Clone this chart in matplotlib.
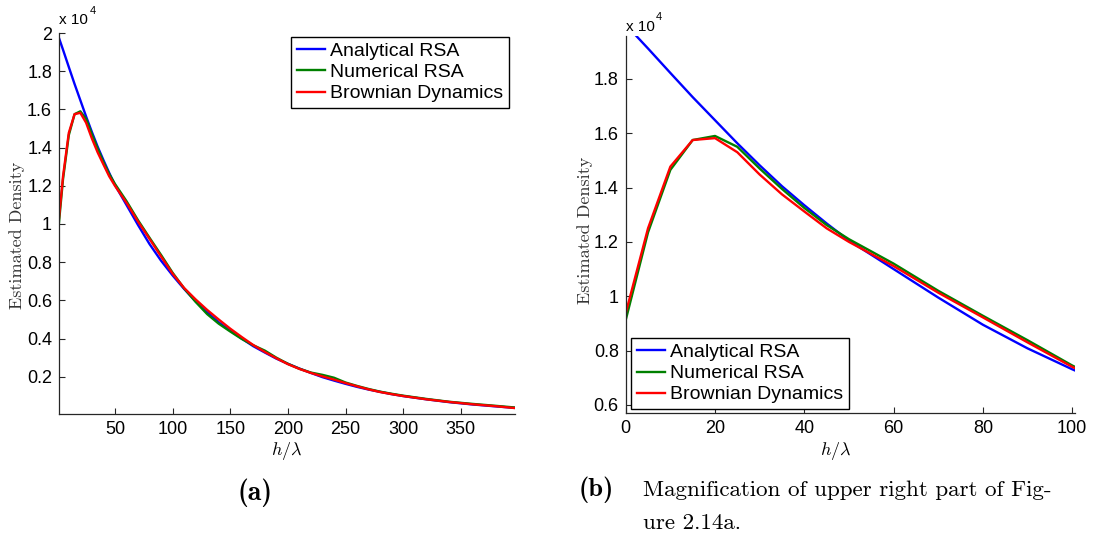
import matplotlib
matplotlib.use("Agg")
import matplotlib.pyplot as plt
from matplotlib.ticker import FuncFormatter

# ---- data (densities in units of 1e4) ----
h = [0, 5, 10, 15, 20, 25, 30, 35, 40, 45, 50, 60, 70, 80, 90, 100,
     110, 120, 130, 140, 150, 160, 170, 180, 190, 200, 210, 220, 230, 240,
     250, 260, 270, 280, 290, 300, 320, 340, 360, 380, 397]

analytical = [2.000, 1.912, 1.822, 1.733, 1.648, 1.563, 1.482, 1.405, 1.335, 1.268,
              1.205, 1.100, 0.995, 0.895, 0.808, 0.731,
              0.660, 0.595, 0.538, 0.485, 0.442, 0.400, 0.360, 0.327, 0.295,
              0.268, 0.243, 0.220, 0.198, 0.180, 0.163, 0.147, 0.133, 0.121,
              0.109, 0.099, 0.082, 0.067, 0.055, 0.045, 0.037]

numerical = [0.912, 1.235, 1.465, 1.575, 1.590, 1.550, 1.470, 1.395, 1.325, 1.262,
             1.210, 1.120, 1.020, 0.928, 0.838, 0.745,
             0.663, 0.592, 0.528, 0.478, 0.437, 0.398, 0.365, 0.337, 0.300,
             0.268, 0.242, 0.222, 0.210, 0.195, 0.170, 0.152, 0.136, 0.122,
             0.111, 0.101, 0.084, 0.069, 0.058, 0.048, 0.039]

brownian = [0.937, 1.250, 1.477, 1.575, 1.582, 1.530, 1.448, 1.375, 1.312, 1.250,
            1.200, 1.111, 1.013, 0.922, 0.830, 0.740,
            0.665, 0.605, 0.550, 0.500, 0.452, 0.408, 0.366, 0.330, 0.297,
            0.266, 0.241, 0.220, 0.202, 0.185, 0.167, 0.150, 0.134, 0.120,
            0.109, 0.099, 0.082, 0.068, 0.056, 0.046, 0.036]

labels = ["Analytical RSA", "Numerical RSA", "Brownian Dynamics"]
colors = ["#0000ff", "#008000", "#ff0000"]

left_xticks = [50, 100, 150, 200, 250, 300, 350]
left_yticks = [0.2, 0.4, 0.6, 0.8, 1.0, 1.2, 1.4, 1.6, 1.8, 2.0]
right_xticks = [0, 20, 40, 60, 80, 100]
right_yticks = [0.6, 0.8, 1.0, 1.2, 1.4, 1.6, 1.8]

SANS = "Liberation Sans"
plt.rcParams["mathtext.fontset"] = "cm"
plt.rcParams["font.family"] = [SANS, "DejaVu Sans"]

W, H = 1093, 543
fig = plt.figure(figsize=(W / 100, H / 100), dpi=100)


def px_axes(x0, y0, x1, y1):
    return fig.add_axes([x0 / W, 1 - y1 / H, (x1 - x0) / W, (y1 - y0) / H])


fmt = FuncFormatter(lambda v, p: "%g" % round(v, 6))


def style(ax):
    for s in ["top", "right"]:
        ax.spines[s].set_visible(False)
    for s in ["left", "bottom"]:
        ax.spines[s].set_color("#262626")
        ax.spines[s].set_linewidth(0.9)
    ax.tick_params(direction="in", length=4, width=0.8, color="#262626",
                   labelsize=13, pad=5)
    ax.xaxis.set_major_formatter(fmt)
    ax.yaxis.set_major_formatter(fmt)


def draw(ax):
    ys = [analytical, numerical, brownian]
    for y, c, lab in zip(ys, colors, labels):
        ax.plot(h, y, color=c, lw=1.7, label=lab)


def legend(ax, loc, anchor):
    lg = ax.legend(loc=loc, bbox_to_anchor=anchor, borderaxespad=0, fancybox=False,
                   framealpha=1, edgecolor="black", prop={"family": SANS, "size": 14},
                   handlelength=1.45, handletextpad=0.25, labelspacing=0.18,
                   borderpad=0.3)
    lg.get_frame().set_linewidth(1.0)
    return lg


# ---- left panel ----
axL = px_axes(59, 33, 515, 414)
draw(axL)
axL.set_xlim(1.5, 397)
axL.set_ylim(0.005, 2.0)
axL.set_xticks(left_xticks)
axL.set_yticks(left_yticks)
style(axL)
axL.set_xlabel(r"$h/\lambda$", fontsize=13)
axL.xaxis.set_label_coords(0.5, (414 - 440) / 381)
axL.set_ylabel("Estimated Density", fontfamily="cmr10", fontsize=13, color="#333333")
axL.yaxis.set_label_coords((25 - 59) / 456, (414 - 235) / 381)
legend(axL, "upper right", ((509.3 - 59) / 456, (414 - 36.7) / 381))
fig.text(59 / W, 1 - 20 / H, "x 10", fontsize=11, va="center", ha="left")
fig.text(89.5 / W, 1 - 11 / H, "4", fontsize=8, va="center", ha="left")

# ---- right panel ----
axR = px_axes(625.7, 36, 1075.3, 413)
draw(axR)
axR.set_xlim(0, 100.7)
axR.set_ylim(0.570, 1.958)
axR.set_xticks(right_xticks)
axR.set_yticks(right_yticks)
style(axR)
axR.set_xlabel(r"$h/\lambda$", fontsize=13)
axR.xaxis.set_label_coords((836 - 625.7) / 449.6, (413 - 440) / 377)
axR.set_ylabel("Estimated Density", fontfamily="cmr10", fontsize=13, color="#333333")
axR.yaxis.set_label_coords((593 - 625.7) / 449.6, (413 - 230) / 377)
legend(axR, "lower left", ((630.7 - 625.7) / 449.6, (413 - 409.3) / 377))
fig.text(625.7 / W, 1 - 26.7 / H, "x 10", fontsize=11, va="center", ha="left")
fig.text(656 / W, 1 - 17.5 / H, "4", fontsize=8, va="center", ha="left")

# ---- captions ----
fig.text(254.5 / W, 1 - 493 / H, "(a)", fontfamily="cmb10", fontsize=20, ha="center", va="center")
fig.text(579 / W, 1 - 490 / H, "(b)", fontfamily="cmb10", fontsize=19, ha="left", va="center")
fig.text(643 / W, 1 - 490 / H, "Magnification of upper right part of Fig-",
         fontfamily="cmr10", fontsize=16.6, ha="left", va="center")
fig.text(643 / W, 1 - 523 / H, "ure 2.14a.", fontfamily="cmr10", fontsize=16.6,
         ha="left", va="center")

fig.savefig("out.png", dpi=100)
